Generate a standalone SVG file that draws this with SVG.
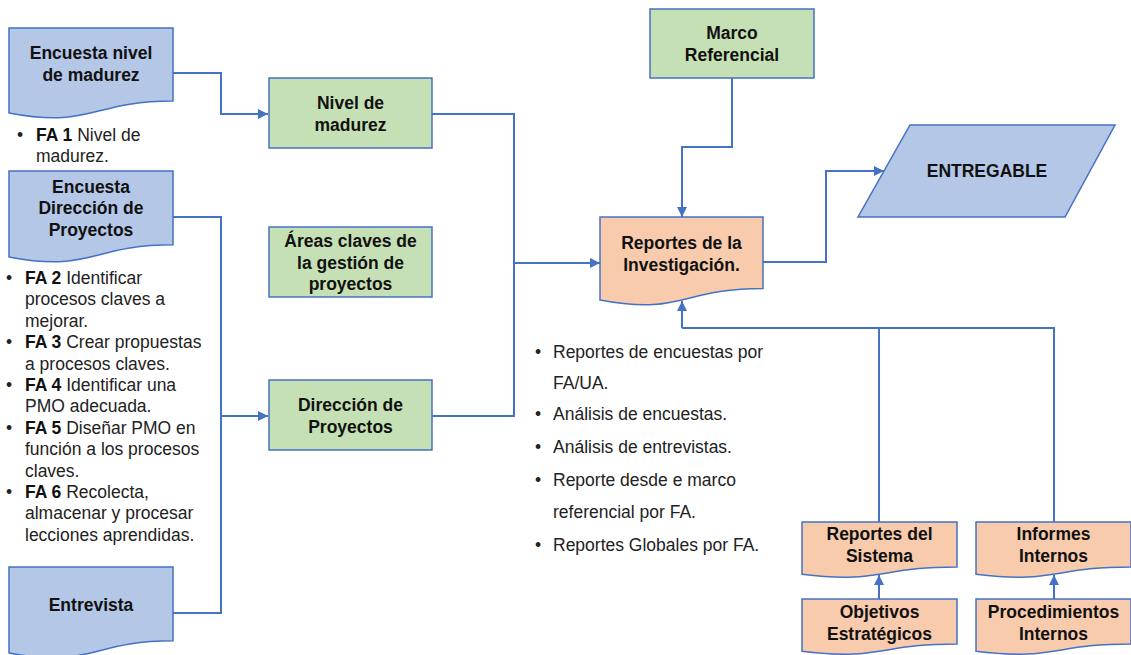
<svg xmlns="http://www.w3.org/2000/svg" width="1131" height="655" viewBox="0 0 1131 655">
  <defs>
    <style>
      .doc-blue { fill: #B4C7E7; stroke: #4472C4; stroke-width: 1.5; }
      .box-green { fill: #C5E0B4; stroke: #4472C4; stroke-width: 1.5; }
      .doc-orange { fill: #F8CBAD; stroke: #4472C4; stroke-width: 1.5; }
      .para-blue { fill: #B4C7E7; stroke: #4472C4; stroke-width: 1.5; }
      .title { font-family: "Liberation Sans", Arial, sans-serif; font-weight: bold; font-size: 17.5px; fill: #111; text-anchor: middle; }
      .note { font-family: "Liberation Sans", Arial, sans-serif; font-size: 17.5px; fill: #222; }
      .note .b { font-weight: bold; fill: #111; }
      .link { fill: none; stroke: #4472C4; stroke-width: 2; }
    </style>
    <marker id="arrow" viewBox="0 0 10 10" refX="10" refY="5" markerWidth="10" markerHeight="10" markerUnits="userSpaceOnUse" orient="auto">
      <path d="M0,0 L10,5 L0,10 Z" fill="#4472C4"/>
    </marker>
  </defs>

  <rect width="1131" height="655" fill="#FFFFFF"/>

  <!-- connectors -->
  <g id="connectors">
    <path class="link" d="M173,73 H221 V114 H268" marker-end="url(#arrow)"/>
    <path class="link" d="M173,217 H221 V613 H173"/>
    <path class="link" d="M221,416 H268" marker-end="url(#arrow)"/>
    <path class="link" d="M432,114 H514 V416 H432"/>
    <path class="link" d="M514,263 H600" marker-end="url(#arrow)"/>
    <path class="link" d="M732,78 V147 H682 V217" marker-end="url(#arrow)"/>
    <path class="link" d="M763,262 H826 V171 H884" marker-end="url(#arrow)"/>
    <path class="link" d="M682,328 H1054 V522"/>
    <path class="link" d="M879,328 V522"/>
    <path class="link" d="M682,328 V301" marker-end="url(#arrow)"/>
    <path class="link" d="M879,599 V575" marker-end="url(#arrow)"/>
    <path class="link" d="M1054,599 V575" marker-end="url(#arrow)"/>
  </g>

  <!-- left column: surveys and interview -->
  <g id="encuesta-nivel">
    <path class="doc-blue" d="M9,28 H173 V101 C91,101 91,128.8 9,113 Z"/>
    <text class="title" x="91" y="59">Encuesta nivel</text>
    <text class="title" x="91" y="81">de madurez</text>
  </g>

  <g id="notas-fa1">
    <text class="note" x="17" y="141">•</text>
    <text class="note" x="36" y="141"><tspan class="b">FA 1</tspan> Nivel de</text>
    <text class="note" x="36" y="162">madurez.</text>
  </g>

  <g id="encuesta-direccion">
    <path class="doc-blue" d="M9,171 H173 V244.8 C91,244.8 91,272.9 9,256.9 Z"/>
    <text class="title" x="91" y="193">Encuesta</text>
    <text class="title" x="91" y="214">Dirección de</text>
    <text class="title" x="91" y="236">Proyectos</text>
  </g>

  <g id="notas-fa2-6">
    <text class="note" x="6" y="284">•</text>
    <text class="note" x="25" y="284"><tspan class="b">FA 2</tspan> Identificar</text>
    <text class="note" x="25" y="305.4">procesos claves a</text>
    <text class="note" x="25" y="326.8">mejorar.</text>
    <text class="note" x="6" y="348.2">•</text>
    <text class="note" x="25" y="348.2"><tspan class="b">FA 3</tspan> Crear propuestas</text>
    <text class="note" x="25" y="369.6">a procesos claves.</text>
    <text class="note" x="6" y="391">•</text>
    <text class="note" x="25" y="391"><tspan class="b">FA 4</tspan> Identificar una</text>
    <text class="note" x="25" y="412.4">PMO adecuada.</text>
    <text class="note" x="6" y="433.8">•</text>
    <text class="note" x="25" y="433.8"><tspan class="b">FA 5</tspan> Diseñar PMO en</text>
    <text class="note" x="25" y="455.2">función a los procesos</text>
    <text class="note" x="25" y="476.6">claves.</text>
    <text class="note" x="6" y="498">•</text>
    <text class="note" x="25" y="498"><tspan class="b">FA 6</tspan> Recolecta,</text>
    <text class="note" x="25" y="519.4">almacenar y procesar</text>
    <text class="note" x="25" y="540.8">lecciones aprendidas.</text>
  </g>

  <g id="entrevista">
    <path class="doc-blue" d="M9,567 H173 V640.8 C91,640.8 91,668.9 9,652.9 Z"/>
    <text class="title" x="91" y="611">Entrevista</text>
  </g>

  <!-- middle column -->
  <g id="nivel-madurez">
    <rect class="box-green" x="269" y="78" width="163" height="70"/>
    <text class="title" x="350.5" y="109">Nivel de</text>
    <text class="title" x="350.5" y="131">madurez</text>
  </g>

  <g id="areas-claves">
    <rect class="box-green" x="269" y="227" width="163" height="70"/>
    <text class="title" x="350.5" y="247">Áreas claves de</text>
    <text class="title" x="350.5" y="269">la gestión de</text>
    <text class="title" x="350.5" y="290">proyectos</text>
  </g>

  <g id="direccion-proyectos">
    <rect class="box-green" x="269" y="380" width="163" height="70"/>
    <text class="title" x="350.5" y="411">Dirección de</text>
    <text class="title" x="350.5" y="433">Proyectos</text>
  </g>

  <!-- right side -->
  <g id="marco-referencial">
    <rect class="box-green" x="650" y="9" width="164" height="69"/>
    <text class="title" x="732" y="39">Marco</text>
    <text class="title" x="732" y="61">Referencial</text>
  </g>

  <g id="reportes-investigacion">
    <path class="doc-orange" d="M600,217 H763 V288.4 C681.5,288.4 681.5,315.6 600,300.1 Z"/>
    <text class="title" x="681.5" y="249">Reportes de la</text>
    <text class="title" x="681.5" y="271">Investigación.</text>
  </g>

  <g id="entregable">
    <path class="para-blue" d="M910,125 H1115 L1065,217 H858 Z"/>
    <text class="title" x="987" y="177">ENTREGABLE</text>
  </g>

  <g id="notas-reportes">
    <text class="note" x="535" y="358">•</text>
    <text class="note" x="553" y="358">Reportes de encuestas por</text>
    <text class="note" x="553" y="389">FA/UA.</text>
    <text class="note" x="535" y="420">•</text>
    <text class="note" x="553" y="420">Análisis de encuestas.</text>
    <text class="note" x="535" y="453">•</text>
    <text class="note" x="553" y="453">Análisis de entrevistas.</text>
    <text class="note" x="535" y="486">•</text>
    <text class="note" x="553" y="486">Reporte desde e marco</text>
    <text class="note" x="553" y="518">referencial por FA.</text>
    <text class="note" x="535" y="551">•</text>
    <text class="note" x="553" y="551">Reportes Globales por FA.</text>
  </g>

  <g id="reportes-sistema">
    <path class="doc-orange" d="M802,522 H957 V566.9 C879.5,566.9 879.5,584 802,574.3 Z"/>
    <text class="title" x="879.5" y="540">Reportes del</text>
    <text class="title" x="879.5" y="562">Sistema</text>
  </g>

  <g id="informes-internos">
    <path class="doc-orange" d="M976,522 H1131 V566.9 C1053.5,566.9 1053.5,584 976,574.3 Z"/>
    <text class="title" x="1053.5" y="540">Informes</text>
    <text class="title" x="1053.5" y="562">Internos</text>
  </g>

  <g id="objetivos-estrategicos">
    <path class="doc-orange" d="M802,599 H957 V643.9 C879.5,643.9 879.5,661 802,651.3 Z"/>
    <text class="title" x="879.5" y="618">Objetivos</text>
    <text class="title" x="879.5" y="640">Estratégicos</text>
  </g>

  <g id="procedimientos-internos">
    <path class="doc-orange" d="M976,599 H1131 V643.9 C1053.5,643.9 1053.5,661 976,651.3 Z"/>
    <text class="title" x="1053.5" y="618">Procedimientos</text>
    <text class="title" x="1053.5" y="640">Internos</text>
  </g>
</svg>
